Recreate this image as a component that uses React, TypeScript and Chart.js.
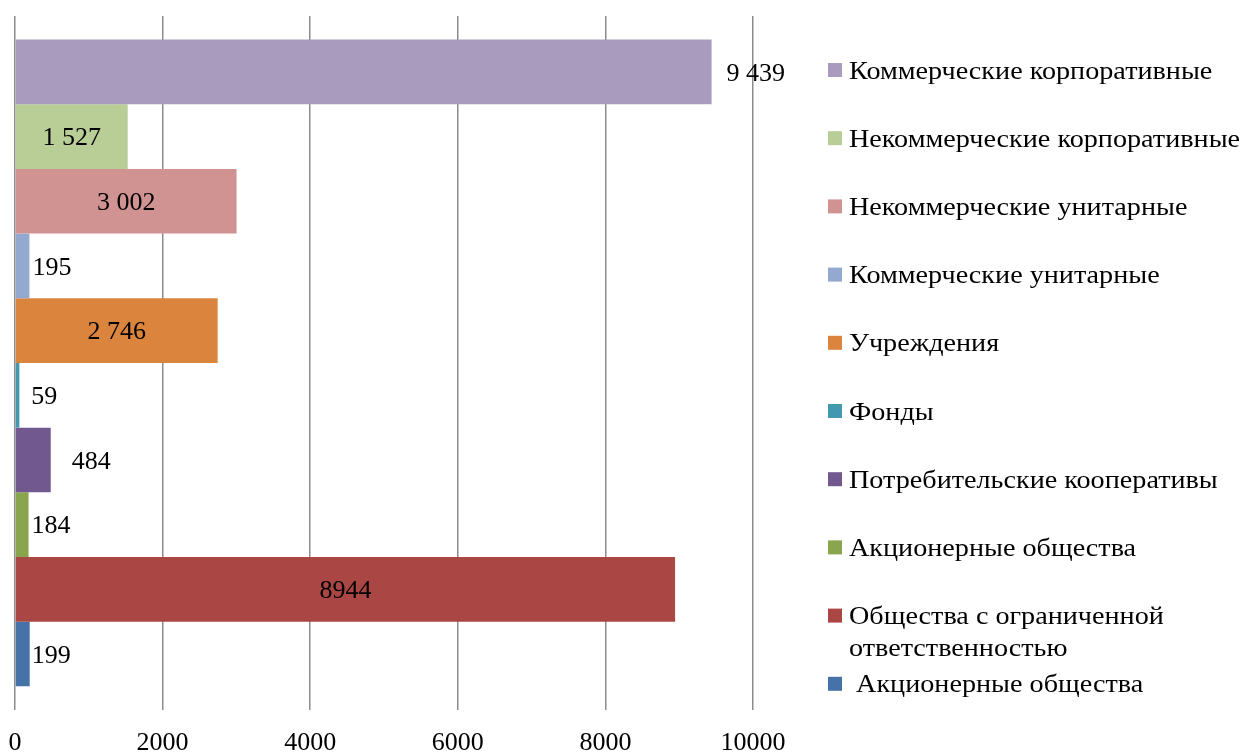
import React, { useEffect, useRef } from "react";
import { Chart, registerables } from "chart.js";

Chart.register(...registerables);

// ---- data ----
const categories = [""];
const seriesNames = [
  "Коммерческие корпоративные",
  "Некоммерческие корпоративные",
  "Некоммерческие унитарные",
  "Коммерческие унитарные",
  "Учреждения",
  "Фонды",
  "Потребительские кооперативы",
  "Акционерные общества",
  "Общества с ограниченной ответственностью",
  " Акционерные общества",
];
const seriesValues = [9439, 1527, 3002, 195, 2746, 59, 484, 184, 8944, 199];
const valueLabels = ["9 439", "1 527", "3 002", "195", "2 746", "59", "484", "184", "8944", "199"];
const xTickValues = [0, 2000, 4000, 6000, 8000, 10000];
const legendLines = [
  ["Коммерческие корпоративные"],
  ["Некоммерческие корпоративные"],
  ["Некоммерческие унитарные"],
  ["Коммерческие унитарные"],
  ["Учреждения"],
  ["Фонды"],
  ["Потребительские кооперативы"],
  ["Акционерные общества"],
  ["Общества с ограниченной", "ответственностью"],
  [" Акционерные общества"],
];

// ---- styles ----
const seriesColors = [
  "#A99BBD",
  "#B9CD96",
  "#D19392",
  "#93A9CF",
  "#DB843D",
  "#4198AF",
  "#71588F",
  "#89A54E",
  "#AA4643",
  "#4572A7",
];
const labelInside = [false, true, true, false, true, false, false, false, true, false];
const labelGap = [15, 0, 0, 3, 0, 12, 21, 3, 0, 2];
const FONT = "'Liberation Serif', 'Times New Roman', serif";

const valueLabelPlugin = {
  id: "valueLabels",
  afterDatasetsDraw(chart: any) {
    const ctx = chart.ctx;
    ctx.save();
    ctx.font = `26px ${FONT}`;
    ctx.fillStyle = "#000";
    ctx.textBaseline = "middle";
    chart.data.datasets.forEach((_ds: any, i: number) => {
      const meta = chart.getDatasetMeta(i);
      const bar = meta.data[0];
      if (!bar) return;
      const { x, y, base } = bar.getProps(["x", "y", "base"], true);
      if (labelInside[i]) {
        ctx.textAlign = "center";
        ctx.fillText(valueLabels[i], (x + base) / 2, y + 2);
      } else {
        ctx.textAlign = "left";
        ctx.fillText(valueLabels[i], x + labelGap[i], y + 2);
      }
    });
    ctx.restore();
  },
};

const sideLegendPlugin = {
  id: "sideLegend",
  afterDraw(chart: any) {
    const ctx = chart.ctx;
    const area = chart.chartArea;
    const boxX = area.right + 75;
    const textX = boxX + 21;
    const top = area.top + 56;
    const step = 68.2;
    const lineH = 32;
    ctx.save();
    ctx.font = `25px ${FONT}`;
    ctx.textBaseline = "middle";
    ctx.textAlign = "left";
    legendLines.forEach((lines, i) => {
      const cy = top + i * step;
      ctx.fillStyle = seriesColors[i];
      ctx.fillRect(boxX, cy - 9, 14, 14);
      ctx.fillStyle = "#000";
      lines.forEach((ln, j) => {
        ctx.save();
        ctx.translate(textX, cy + j * lineH);
        ctx.scale(1.127, 1);
        ctx.fillText(ln, 0, 0);
        ctx.restore();
      });
    });
    ctx.restore();
  },
};

export default function App() {
  const canvasRef = useRef<HTMLCanvasElement | null>(null);

  useEffect(() => {
    document.body.style.margin = "0";
    const canvas = canvasRef.current;
    if (!canvas) return;
    const chart = new Chart(canvas, {
      type: "bar",
      data: {
        labels: categories,
        datasets: seriesNames.map((name, i) => ({
          label: name,
          data: [seriesValues[i]],
          backgroundColor: seriesColors[i],
          borderWidth: 0,
          categoryPercentage: 0.932,
          barPercentage: 1,
        })),
      },
      options: {
        indexAxis: "y",
        animation: false,
        responsive: false,
        devicePixelRatio: 1,
        layout: { padding: { left: 15, right: 491, top: 16, bottom: -23 } },
        plugins: {
          legend: { display: false },
          tooltip: { enabled: false },
        },
        scales: {
          x: {
            type: "linear",
            min: 0,
            max: 10000,
            afterBuildTicks: (scale: any) => {
              scale.ticks = xTickValues.map((v) => ({ value: v }));
            },
            grid: { color: "#8c8c8c", lineWidth: 1.5, drawTicks: false },
            border: { display: false },
            ticks: {
              color: "#000",
              padding: 0,
              font: { family: FONT, size: 26, lineHeight: 2.58 },
              callback: (v: any) => String(v),
            },
          },
          y: {
            type: "category",
            display: false,
          },
        },
      },
      plugins: [valueLabelPlugin, sideLegendPlugin],
    });
    return () => chart.destroy();
  }, []);

  return (
    <div style={{ width: 1244, height: 754, overflow: "hidden" }}>
      <canvas ref={canvasRef} width={1244} height={754} />
    </div>
  );
}
